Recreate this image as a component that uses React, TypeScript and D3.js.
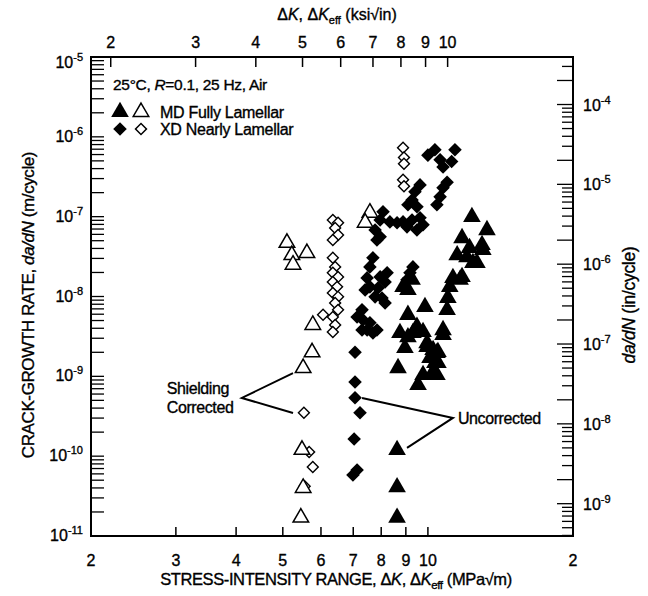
import React from "react";
import * as d3 from "d3";

// values: [ΔK (MPa√m), da/dN (m/cycle)]
const mdUncorrected: [number, number][] = [
  [8.63, 1.2e-10], [8.63, 4.1e-11], [8.63, 1.7e-11],
  [8.75, 3.5e-9], [9.31, 3.5e-9], [9.77, 3.6e-9], [10.75, 3.3e-9],
  [8.96, 2.27e-9], [9.96, 2.34e-9], [10.44, 1.97e-9], [10.1, 1.7e-9],
  [10.49, 1.47e-9], [8.67, 1.27e-9], [10.25, 1.14e-9], [9.77, 1.04e-9], [9.54, 7.8e-10],
  [8.88, 1.32e-8], [9.27, 1.62e-8], [9.09, 1.21e-8], [9.09, 5.9e-9], [9.86, 7.4e-9],
  [9.49, 4.2e-9], [9.09, 3.1e-9], [9.96, 2.6e-9], [10.75, 3.8e-9],
  [12.34, 9.9e-8], [13.26, 6.8e-8], [11.77, 5.4e-8], [12.2, 4.06e-8], [12.95, 4.43e-8],
  [11.5, 3.3e-8], [12.4, 2.64e-8], [11.27, 1.71e-8], [11.77, 1.76e-8], [11.1, 1.32e-8],
  [11.0, 9.6e-9], [10.96, 6.8e-9], [10.25, 2.14e-9], [10.49, 2.02e-9], [10.34, 1.47e-9],
  [10.44, 1.04e-9], [12.05, 3.1e-8], [12.64, 2.64e-8], [11.66, 1.62e-8], [13.0, 3.84e-8],
];

const mdCorrected: [number, number][] = [
  [5.1, 4.7e-8], [5.22, 3.3e-8], [5.61, 3.5e-8], [5.25, 2.5e-8],
  [7.58, 1.12e-7], [7.41, 8.4e-8],
  [5.77, 4.4e-9], [5.75, 2.0e-9], [5.51, 1.27e-9],
  [5.48, 1.2e-10], [5.51, 4.0e-11], [5.45, 1.7e-11],
];

const xdUncorrected: [number, number][] = [
  [10.0, 5.9e-7], [10.34, 6.9e-7], [10.6, 5.15e-7], [10.75, 4.2e-7], [11.38, 6.9e-7],
  [11.2, 4.9e-7], [10.96, 2.7e-7], [10.75, 2.3e-7], [10.6, 1.77e-7], [10.44, 1.41e-7],
  [9.63, 2.5e-7], [9.4, 2.05e-7], [9.27, 1.62e-7], [9.09, 1.41e-7], [9.49, 1.33e-7],
  [8.07, 1.15e-7], [7.96, 9.1e-8], [7.77, 6.8e-8], [8.34, 8.6e-8], [8.63, 8.4e-8],
  [8.88, 8.6e-8], [9.27, 9.1e-8], [9.63, 9.7e-8], [9.77, 7.9e-8], [9.49, 6.8e-8],
  [9.05, 7.45e-8], [7.84, 5.1e-8], [7.96, 5.6e-8],
  [7.69, 3.05e-8], [7.58, 2.35e-8], [7.48, 1.71e-8], [7.58, 1.32e-8], [7.41, 1.21e-8],
  [7.96, 1.76e-8], [8.15, 1.52e-8], [8.23, 1.98e-8], [7.88, 1.28e-8], [7.77, 9.9e-9],
  [8.03, 9.6e-9], [8.15, 8.3e-9], [7.3, 6.8e-9], [7.13, 5.55e-9], [7.33, 5.1e-9],
  [7.58, 4.7e-9], [7.84, 3.8e-9], [7.48, 3.8e-9], [9.31, 2.35e-8], [9.18, 1.98e-8],
  [9.05, 1.62e-8], [7.3, 3.8e-9], [7.69, 3.5e-9],
  [7.06, 2.0e-9], [7.06, 8.5e-10], [7.06, 5.4e-10], [7.23, 3.5e-10], [7.03, 1.64e-10],
  [7.13, 6.7e-11], [6.99, 5.8e-11],
];

const xdCorrected: [number, number][] = [
  [8.88, 7.3e-7], [8.92, 5.5e-7], [8.92, 4.6e-7], [8.88, 2.9e-7], [8.92, 2.4e-7],
  [6.35, 9.1e-8], [6.51, 8.4e-8], [6.42, 7.2e-8], [6.51, 5.9e-8], [6.35, 5.1e-8],
  [6.35, 3.05e-8], [6.42, 2.35e-8], [6.35, 1.98e-8], [6.51, 1.76e-8], [6.35, 1.52e-8],
  [6.48, 1.32e-8], [6.35, 1.11e-8], [6.51, 9.9e-9], [6.42, 8.3e-9], [6.51, 6.8e-9],
  [6.35, 5.55e-9], [6.42, 4.4e-9], [6.35, 3.6e-9], [6.06, 5.9e-9],
  [5.53, 3.5e-10], [5.67, 1.13e-10], [5.77, 7.3e-11], [5.55, 4.2e-11],
];

const bottomTicks = [2, 3, 4, 5, 6, 7, 8, 9, 10, 20];
const topTicks = [2, 3, 4, 5, 6, 7, 8, 9, 10];
const leftDecades = [-11, -10, -9, -8, -7, -6, -5];
const rightDecades = [-9, -8, -7, -6, -5, -4];

// leader lines, in data units: [vertex, end1, end2]
const shieldingLeader: [number, number][] = [[4.11, 5.36e-10], [5.25, 1.1e-9], [5.25, 3.48e-10]];
const uncorrectedLeader: [number, number][] = [[11.27, 3.01e-10], [7.3, 5.36e-10], [9.05, 1.27e-10]];

const MPA_PER_KSI = 1.0988;
const IN_PER_M = 1 / 0.0254;

const font = "'Liberation Sans', Arial, Helvetica, sans-serif";

const App: React.FC = () => {
  const L = 91, R = 573, T = 57, B = 536;

  const x = d3.scaleLog().domain([2, 20]).range([L, R]);
  const xKsi = d3.scaleLog().domain([2 / MPA_PER_KSI, 20 / MPA_PER_KSI]).range([L, R]);
  const y = d3.scaleLog().domain([1e-11, 1e-5]).range([B, T]);
  const yIn = d3.scaleLog().domain([1e-11 * IN_PER_M, 1e-5 * IN_PER_M]).range([B, T]);

  const triFilled = d3.symbol(d3.symbolTriangle, 135)()!;
  const triOpen = d3.symbol(d3.symbolTriangle, 105)()!;
  const dmdFilled = d3.symbol(d3.symbolSquare, 92)()!;
  const dmdOpen = d3.symbol(d3.symbolSquare, 60)()!;

  const leftTicks = y.ticks();
  const rightTicks = yIn.ticks();

  const isLead = (v: number) => {
    const m = v / Math.pow(10, Math.floor(Math.log10(v) + 1e-9));
    return Math.abs(m - 1) < 1e-6 || Math.abs(m - 2) < 1e-6;
  };

  const leader = (pts: [number, number][]) => {
    const [v, a, b] = pts.map(([k, r]) => [x(k), y(r)]);
    return `M${a[0]},${a[1]}L${v[0]},${v[1]}L${b[0]},${b[1]}`;
  };

  const sv = shieldingLeader[0];
  const uv = uncorrectedLeader[0];

  return (
    <svg width={648} height={596} style={{ position: "absolute", left: 0, top: 0, background: "#fff" }}
      fontFamily={font} fill="#000">
      <rect x={0} y={0} width={648} height={596} fill="#fff" />

      {/* frame */}
      <rect x={L} y={T} width={R - L} height={B - T} fill="none" stroke="#000" strokeWidth={2} />

      <g stroke="#000" strokeWidth={0.35}>
        {/* bottom axis */}
        {bottomTicks.map((v) => (
          <g key={"b" + v}>
            {v > 2 && v < 20 && <line x1={x(v)} x2={x(v)} y1={B} y2={B - 9} strokeWidth={1.5} />}
            <text x={x(v)} y={566} textAnchor="middle" fontSize={16}>{v === 20 ? "2" : v}</text>
          </g>
        ))}

        {/* top axis (ksi√in) */}
        {topTicks.map((v) => (
          <g key={"t" + v}>
            <line x1={xKsi(v)} x2={xKsi(v)} y1={T} y2={T + 10} strokeWidth={1.5} />
            <text x={xKsi(v)} y={48} textAnchor="middle" fontSize={16}>{v}</text>
          </g>
        ))}

        {/* left axis */}
        {leftTicks.map((v, i) => (
          <line key={"l" + i} x1={L} x2={L + 13} y1={y(v)} y2={y(v)} strokeWidth={1.3} />
        ))}
        {leftDecades.map((e) => {
          const cy = Math.max(y(Math.pow(10, e)), 63);
          return (
            <text key={"ll" + e} x={83} y={cy + 5} textAnchor="end" fontSize={16}>
              10<tspan fontSize={11} dy={-7}>{e}</tspan>
            </text>
          );
        })}

        {/* right axis (in/cycle) */}
        {rightTicks.map((v, i) => (
          <line key={"r" + i} x1={R} x2={R - (isLead(v) ? 16 : 11)} y1={yIn(v)} y2={yIn(v)} strokeWidth={1.3} />
        ))}
        {rightDecades.map((e) => (
          <text key={"rl" + e} x={583} y={yIn(Math.pow(10, e)) + 6} fontSize={16}>
            10<tspan fontSize={11} dy={-7}>{e}</tspan>
          </text>
        ))}

        {/* axis titles */}
        <text x={337} y={20} textAnchor="middle" fontSize={16}>
          Δ<tspan fontStyle="italic">K</tspan>, Δ<tspan fontStyle="italic">K</tspan>
          <tspan fontSize={11} dy={4}>eff</tspan><tspan dy={-4}> (ksi√in)</tspan>
        </text>
        <text x={336} y={585} textAnchor="middle" fontSize={16.5} letterSpacing={-0.4}>
          STRESS-INTENSITY RANGE, Δ<tspan fontStyle="italic">K</tspan>, Δ<tspan fontStyle="italic">K</tspan>
          <tspan fontSize={11.5} dy={4}>eff</tspan><tspan dy={-4}> (MPa√m)</tspan>
        </text>
        <text transform="translate(34,305) rotate(-90)" textAnchor="middle" fontSize={17} letterSpacing={-0.4}>
          CRACK-GROWTH RATE, <tspan fontStyle="italic">da/dN</tspan> (m/cycle)
        </text>
        <text transform="translate(635,305) rotate(-90)" textAnchor="middle" fontSize={17.5} letterSpacing={-0.3}>
          <tspan fontStyle="italic">da/dN</tspan> (in/cycle)
        </text>

        {/* legend */}
        <text x={113} y={90} fontSize={15.5} letterSpacing={-0.3}>
          25°C, <tspan fontStyle="italic">R</tspan>=0.1, 25 Hz, Air
        </text>
        <text x={160} y={118} fontSize={16} letterSpacing={-0.3}>MD Fully Lamellar</text>
        <text x={160} y={135} fontSize={16} letterSpacing={-0.3}>XD Nearly Lamellar</text>

        {/* annotations */}
        <text x={x(sv[0]) - 75} y={y(sv[1]) - 4} fontSize={16} letterSpacing={-0.4}>Shielding</text>
        <text x={x(sv[0]) - 75} y={y(sv[1]) + 15} fontSize={16} letterSpacing={-0.4}>Corrected</text>
        <text x={x(uv[0]) + 5} y={y(uv[1]) + 6} fontSize={16} letterSpacing={-0.4}>Uncorrected</text>
      </g>

      <path d={triFilled} transform="translate(120,112)" fill="#000" />
      <path d={triOpen} transform="translate(141,112)" fill="#fff" stroke="#000" strokeWidth={1.5} />
      <path d={dmdFilled} transform="translate(120,129) rotate(45)" fill="#000" />
      <path d={dmdOpen} transform="translate(141,129) rotate(45)" fill="#fff" stroke="#000" strokeWidth={1.5} />

      <path d={leader(shieldingLeader)} fill="none" stroke="#000" strokeWidth={2} />
      <path d={leader(uncorrectedLeader)} fill="none" stroke="#000" strokeWidth={2} />

      {/* data */}
      {xdUncorrected.map(([k, r], i) => (
        <path key={"xu" + i} d={dmdFilled} transform={`translate(${x(k)},${y(r)}) rotate(45)`} fill="#000" />
      ))}
      {mdUncorrected.map(([k, r], i) => (
        <path key={"mu" + i} d={triFilled} transform={`translate(${x(k)},${y(r)})`} fill="#000" />
      ))}
      {xdCorrected.map(([k, r], i) => (
        <path key={"xc" + i} d={dmdOpen} transform={`translate(${x(k)},${y(r)}) rotate(45)`}
          fill="#fff" stroke="#000" strokeWidth={1.4} />
      ))}
      {mdCorrected.map(([k, r], i) => (
        <path key={"mc" + i} d={triOpen} transform={`translate(${x(k)},${y(r)})`}
          fill="#fff" stroke="#000" strokeWidth={1.5} />
      ))}
    </svg>
  );
};

export default App;
